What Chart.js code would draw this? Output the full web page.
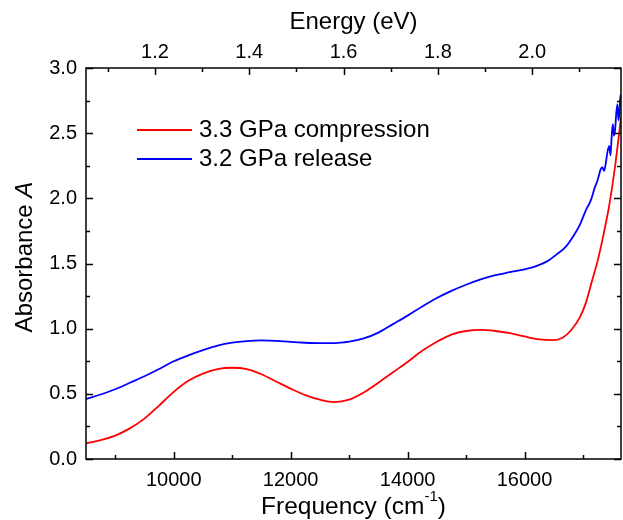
<!DOCTYPE html>
<html>
<head>
<meta charset="utf-8">
<script src="https://cdn.jsdelivr.net/npm/chart.js@4.4.1/dist/chart.umd.min.js"></script>
<style>
  html, body { margin: 0; padding: 0; background: #fff; }
</style>
</head>
<body>
<canvas id="absChart" width="623" height="520"></canvas>
<script>
// Axis ranges and ticks
const freqMin = 8500;
const freqMax = 17650;
const CM_PER_EV = 8065.54; // 1 eV in cm-1
const freqTicks = [10000, 12000, 14000, 16000];
const freqMinor = [9000, 11000, 13000, 15000, 17000];
const energyTicks = [1.2, 1.4, 1.6, 1.8, 2.0];
const energyMinor = [1.1, 1.3, 1.5, 1.7, 1.9, 2.1];
const absTicks = [0, 0.5, 1.0, 1.5, 2.0, 2.5, 3.0];
const absMinor = [0.25, 0.75, 1.25, 1.75, 2.25, 2.75];

// 3.3 GPa compression (red)
const redFreq = [8500, 8750, 9000, 9250, 9500, 9750, 10000, 10250, 10500, 10750,
  11000, 11250, 11500, 11750, 12000, 12250, 12500, 12750, 13000, 13250,
  13500, 13750, 14000, 14250, 14500, 14750, 15000, 15250, 15500, 15750,
  16000, 16250, 16500, 16650, 16800, 16950, 17050, 17150, 17250, 17350,
  17450, 17550, 17650];
const redAbs = [0.12, 0.145, 0.18, 0.235, 0.31, 0.41, 0.515, 0.6, 0.655, 0.69,
  0.70, 0.69, 0.65, 0.595, 0.54, 0.49, 0.455, 0.437, 0.455, 0.51,
  0.585, 0.665, 0.745, 0.83, 0.9, 0.955, 0.982, 0.99, 0.982, 0.965,
  0.94, 0.918, 0.912, 0.93, 0.99, 1.09, 1.2, 1.36, 1.52, 1.72,
  1.95, 2.25, 2.62];

// 3.2 GPa release (blue)
const blueFreq = [8500, 8750, 9000, 9250, 9500, 9750, 10000, 10250, 10500, 10750,
  11000, 11250, 11500, 11750, 12000, 12250, 12500, 12750, 13000, 13250,
  13500, 13750, 14000, 14250, 14500, 14750, 15000, 15250, 15500, 15750,
  16000, 16200, 16400, 16550, 16700, 16850, 16950, 17050, 17130, 17200,
  17250, 17300, 17330, 17360, 17390, 17420, 17450, 17470, 17490, 17510,
  17530, 17550, 17570, 17590, 17605, 17620, 17635, 17650];
const blueAbs = [0.46, 0.495, 0.535, 0.585, 0.635, 0.69, 0.75, 0.795, 0.835, 0.87,
  0.893, 0.905, 0.91, 0.907, 0.898, 0.892, 0.889, 0.889, 0.9, 0.925,
  0.97, 1.035, 1.1, 1.17, 1.235, 1.29, 1.337, 1.378, 1.41, 1.433,
  1.455, 1.48, 1.52, 1.57, 1.625, 1.72, 1.8, 1.91, 1.98, 2.08,
  2.14, 2.22, 2.24, 2.21, 2.27, 2.36, 2.40, 2.33, 2.47, 2.57,
  2.48, 2.53, 2.66, 2.72, 2.60, 2.64, 2.76, 2.80];

const seriesLabels = ['3.3 GPa compression', '3.2 GPa release'];
const seriesColors = ['#ff0000', '#0000ff'];

const FONT = "'Liberation Sans', Arial, sans-serif";
const toPoints = (xs, ys) => xs.map((x, i) => ({ x: x, y: ys[i] }));

// frame, inward ticks, titles and legend
const decorPlugin = {
  id: 'decor',
  afterDraw(chart) {
    const ctx = chart.ctx;
    const ca = chart.chartArea;
    const sx = chart.scales.x, sx2 = chart.scales.x2, sy = chart.scales.y;
    ctx.save();
    ctx.strokeStyle = '#000';
    ctx.lineWidth = 1.5;
    ctx.strokeRect(ca.left, ca.top, ca.right - ca.left, ca.bottom - ca.top);

    ctx.lineWidth = 1.5;
    const vTicks = (scale, vals, len) => {
      vals.forEach(v => {
        const px = Math.round(scale.getPixelForValue(v)) + 0.5;
        ctx.beginPath();
        ctx.moveTo(px, ca.bottom); ctx.lineTo(px, ca.bottom - len);
        ctx.stroke();
      });
    };
    const topTicks = (scale, vals, len) => {
      vals.forEach(v => {
        const px = Math.round(scale.getPixelForValue(v)) + 0.5;
        ctx.beginPath();
        ctx.moveTo(px, ca.top); ctx.lineTo(px, ca.top + len);
        ctx.stroke();
      });
    };
    const hTicks = (vals, len) => {
      vals.forEach(v => {
        const py = Math.round(sy.getPixelForValue(v)) + 0.5;
        ctx.beginPath();
        ctx.moveTo(ca.left, py); ctx.lineTo(ca.left + len, py);
        ctx.moveTo(ca.right, py); ctx.lineTo(ca.right - len, py);
        ctx.stroke();
      });
    };
    vTicks(sx, freqTicks, 7);
    vTicks(sx, freqMinor, 4);
    topTicks(sx2, energyTicks, 7);
    topTicks(sx2, energyMinor, 4);
    hTicks(absTicks, 7);
    hTicks(absMinor, 4);

    // axis titles
    ctx.fillStyle = '#000';
    ctx.textBaseline = 'middle';
    const cx = (ca.left + ca.right) / 2;
    ctx.font = '24px ' + FONT;
    ctx.textAlign = 'center';
    ctx.fillText('Energy (eV)', cx, 22);

    // Frequency (cm-1) with superscript
    ctx.textAlign = 'left';
    const main = 'Frequency (cm';
    ctx.font = '24.5px ' + FONT;
    const w1 = ctx.measureText(main).width;
    ctx.font = '15px ' + FONT;
    const w2 = ctx.measureText('-1').width;
    ctx.font = '24.5px ' + FONT;
    const w3 = ctx.measureText(')').width;
    let x0 = cx - (w1 + w2 + w3) / 2;
    const yb = 507;
    ctx.fillText(main, x0, yb);
    ctx.font = '15px ' + FONT;
    ctx.fillText('-1', x0 + w1, yb - 10);
    ctx.font = '24.5px ' + FONT;
    ctx.fillText(')', x0 + w1 + w2, yb);

    // Absorbance A (italic A)
    ctx.save();
    ctx.translate(25, 257);
    ctx.rotate(-Math.PI / 2);
    ctx.font = '24px ' + FONT;
    const a1 = ctx.measureText('Absorbance ').width;
    ctx.font = 'italic 24px ' + FONT;
    const a2 = ctx.measureText('A').width;
    let ax = -(a1 + a2) / 2;
    ctx.font = '24px ' + FONT;
    ctx.fillText('Absorbance ', ax, 0);
    ctx.font = 'italic 24px ' + FONT;
    ctx.fillText('A', ax + a1, 0);
    ctx.restore();

    // legend inside the plot
    ctx.font = '24px ' + FONT;
    ctx.lineWidth = 1.8;
    chart.data.datasets.forEach((ds, i) => {
      const ly = 130 + i * 29;
      ctx.strokeStyle = ds.borderColor;
      ctx.beginPath();
      ctx.moveTo(137, ly); ctx.lineTo(192, ly);
      ctx.stroke();
      ctx.fillStyle = '#000';
      ctx.fillText(ds.label, 199, ly);
    });
    ctx.restore();
  }
};

const tickFont = { family: FONT, size: 20 };

new Chart(document.getElementById('absChart').getContext('2d'), {
  type: 'line',
  data: {
    datasets: [
      {
        label: seriesLabels[0],
        data: toPoints(redFreq, redAbs),
        borderColor: seriesColors[0],
        borderWidth: 1.8,
        pointRadius: 0,
        cubicInterpolationMode: 'monotone',
        fill: false
      },
      {
        label: seriesLabels[1],
        data: toPoints(blueFreq, blueAbs),
        borderColor: seriesColors[1],
        borderWidth: 1.8,
        pointRadius: 0,
        cubicInterpolationMode: 'monotone',
        fill: false
      }
    ]
  },
  options: {
    responsive: false,
    animation: false,
    layout: { padding: { left: 0, right: 2, top: 0, bottom: 0 } },
    plugins: { legend: { display: false }, tooltip: { enabled: false } },
    scales: {
      x: {
        type: 'linear',
        position: 'bottom',
        min: freqMin,
        max: freqMax,
        grid: { display: false, drawTicks: false },
        border: { display: false },
        ticks: { font: tickFont, color: '#000', padding: 9, maxRotation: 0,
          callback: v => String(v) },
        afterBuildTicks: s => { s.ticks = freqTicks.map(v => ({ value: v })); },
        afterFit: s => { s.height = 61; }
      },
      x2: {
        type: 'linear',
        position: 'top',
        min: freqMin / CM_PER_EV,
        max: freqMax / CM_PER_EV,
        grid: { display: false, drawTicks: false },
        border: { display: false },
        ticks: { font: tickFont, color: '#000', padding: 4, maxRotation: 0,
          callback: v => v.toFixed(1) },
        afterBuildTicks: s => { s.ticks = energyTicks.map(v => ({ value: v })); },
        afterFit: s => { s.height = 68; }
      },
      y: {
        min: 0,
        max: 3,
        grid: { display: false, drawTicks: false },
        border: { display: false },
        ticks: { font: tickFont, color: '#000', padding: 9,
          callback: v => v.toFixed(1) },
        afterBuildTicks: s => { s.ticks = absTicks.map(v => ({ value: v })); },
        afterFit: s => { s.width = 86; }
      }
    }
  },
  plugins: [decorPlugin]
});
</script>
</body>
</html>
